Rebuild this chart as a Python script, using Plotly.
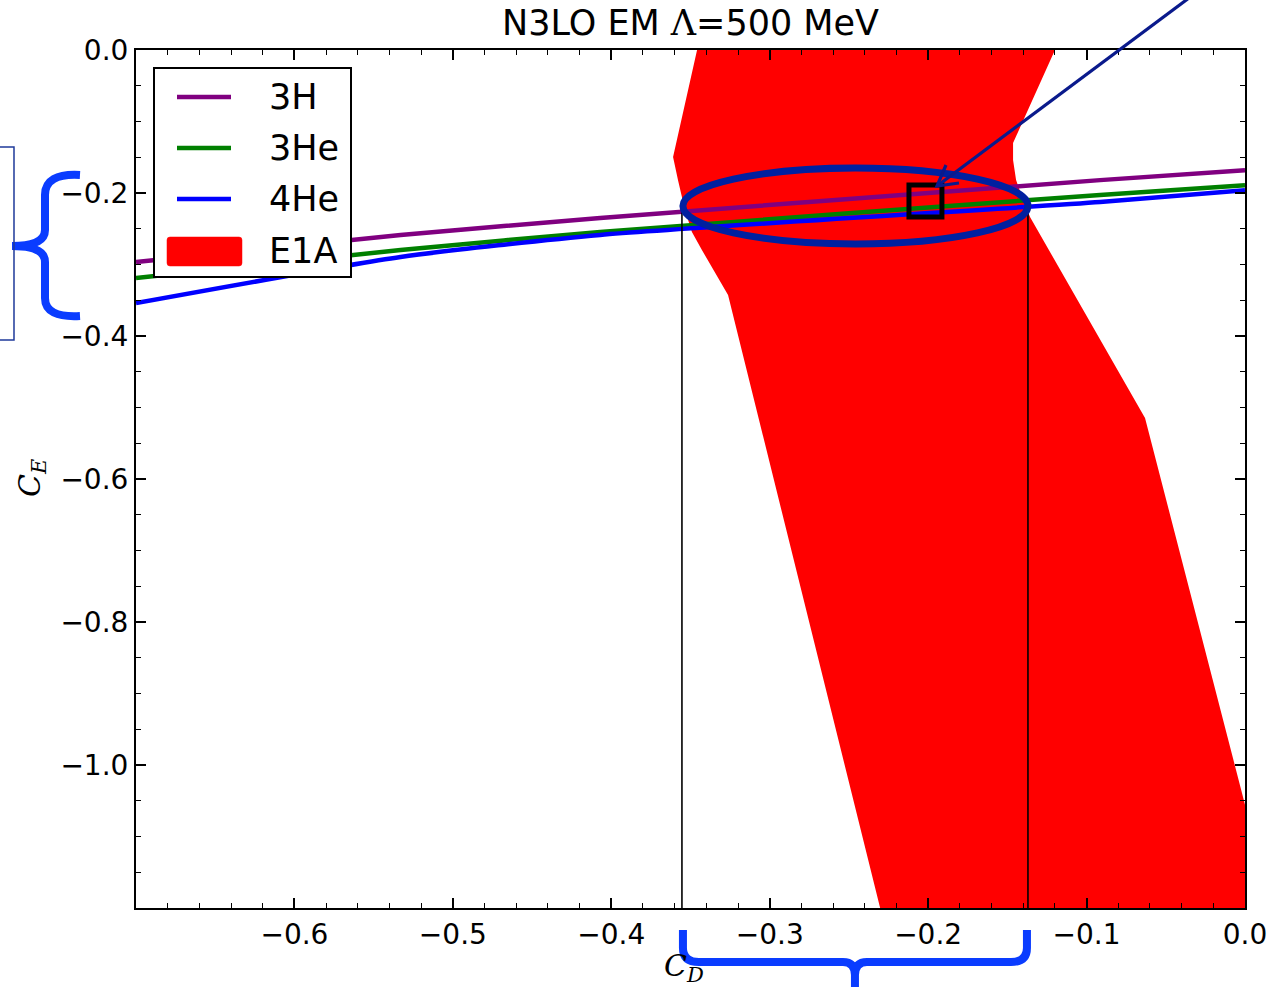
import plotly.graph_objects as go

# ---------------- data ----------------
cd_grid = [-0.7, -0.533, -0.407, -0.0915, 0.0]
ce_3H = [-0.2965, -0.2587, -0.235, -0.182, -0.168]
ce_3He = [-0.319, -0.2797, -0.2545, -0.2028, -0.189]
ce_4He = [-0.354, -0.2895, -0.2587, -0.2126, -0.196]

band_left_x = [-0.3408, -0.3459, -0.3610, -0.3579, -0.3535, -0.3491, -0.3428, -0.3263, -0.2304, -0.2247]
band_left_y = [0.05, 0.0, -0.1497, -0.1818, -0.2238, -0.2545, -0.2797, -0.3427, -1.2, -1.25]
band_right_x = [0.0227, 0.0, -0.0631, -0.1357, -0.1408, -0.1445, -0.1464, -0.1464, -0.1199, -0.1098]
band_right_y = [-1.25, -1.0559, -0.5147, -0.2336, -0.2056, -0.1818, -0.1538, -0.1301, 0.0, 0.05]

cd_bounds = [-0.3554, -0.137]        # vertical lines (C_D range)
cd_bounds_top = [-0.2266, -0.221]

ellipse_x = [-0.3548, -0.137]
ellipse_y = [-0.2713, -0.1651]
box_x = [-0.2121, -0.1913]
box_y = [-0.2336, -0.1888]

series_names = ["3H", "3He", "4He", "E1A"]
series_colors = ["#800080", "#008000", "#0000ff", "#ff0000"]

x_ticks = [-0.6, -0.5, -0.4, -0.3, -0.2, -0.1, 0.0]
y_ticks = [0.0, -0.2, -0.4, -0.6, -0.8, -1.0]

def fmt(v):
    s = f"{v:.1f}"
    return s.replace("-", "\u2212")

# ---------------- layout geometry ----------------
W, H = 1269, 987
L, R, T, B = 136, 1245, 50, 908
XMIN, XMAX, YMIN, YMAX = -0.7, 0.0, -1.2, 0.0

def PX(px):
    return (px - L) / (R - L)

def PY(py):
    return (B - py) / (B - T)

def dx2px(x):
    return L + (x - XMIN) / (XMAX - XMIN) * (R - L)

def path(cmds):
    out = []
    for c in cmds:
        op = c[0]
        pts = c[1:]
        s = op
        for i in range(0, len(pts), 2):
            s += f" {PX(pts[i]):.5f},{PY(pts[i+1]):.5f}"
        out.append(s)
    return " ".join(out)

fig = go.Figure()

# red band
fig.add_trace(go.Scatter(
    x=band_left_x + band_right_x, y=band_left_y + band_right_y,
    fill="toself", fillcolor=series_colors[3], mode="lines",
    line=dict(width=0, color=series_colors[3]), name=series_names[3],
    showlegend=False, hoverinfo="skip"))

for name, ys, col in zip(series_names[:3], [ce_3H, ce_3He, ce_4He], series_colors[:3]):
    fig.add_trace(go.Scatter(x=cd_grid, y=ys, mode="lines", name=name,
                             line=dict(color=col, width=4.5, shape="spline", smoothing=0.6),
                             showlegend=False))

# vertical bound lines
for xv, yt in zip(cd_bounds, cd_bounds_top):
    fig.add_trace(go.Scatter(x=[xv, xv], y=[yt, YMIN], mode="lines",
                             line=dict(color="black", width=1.6), showlegend=False,
                             hoverinfo="skip"))

shapes = []
# ellipse
shapes.append(dict(type="circle", xref="x", yref="y",
                   x0=ellipse_x[0], x1=ellipse_x[1], y0=ellipse_y[0], y1=ellipse_y[1],
                   line=dict(color="#0020a0", width=7)))
# black square
shapes.append(dict(type="rect", xref="x", yref="y",
                   x0=box_x[0], x1=box_x[1], y0=box_y[0], y1=box_y[1],
                   line=dict(color="black", width=5)))

# arrow
arrow_col = "#0a1a8c"
tip = (937, 186)
shapes.append(dict(type="path", xref="paper", yref="paper",
                   path=path([("M", 1197, -8), ("L",) + tip]),
                   line=dict(color=arrow_col, width=3.2)))
shapes.append(dict(type="path", xref="paper", yref="paper",
                   path=path([("M", 946, 165), ("L",) + tip, ("L", 959, 183)]),
                   line=dict(color=arrow_col, width=3.2)))

brace_col = "#0a3cff"
# left brace
shapes.append(dict(type="path", xref="paper", yref="paper",
                   path=path([("M", 80, 175), ("Q", 45, 173, 45, 195), ("L", 45, 230),
                              ("Q", 45, 246, 12, 246), ("Q", 45, 246, 45, 262),
                              ("L", 45, 298), ("Q", 45, 318, 80, 316)]),
                   line=dict(color=brace_col, width=8)))
# thin box at left
shapes.append(dict(type="path", xref="paper", yref="paper",
                   path=path([("M", -10, 147), ("L", 14, 147), ("L", 14, 340), ("L", -10, 340)]),
                   line=dict(color="#1f3a9a", width=1.5)))
# bottom brace
bl = dx2px(cd_bounds[0]) + 1
br = dx2px(cd_bounds[1]) - 1
bm = (bl + br) / 2
shapes.append(dict(type="path", xref="paper", yref="paper",
                   path=path([("M", bl, 930), ("L", bl, 948), ("Q", bl, 962, bl + 16, 962),
                              ("L", bm - 12, 962), ("Q", bm, 962, bm, 975), ("L", bm, 995),
                              ("M", bm, 975), ("Q", bm, 962, bm + 12, 962),
                              ("L", br - 16, 962), ("Q", br, 962, br, 948), ("L", br, 930)]),
                   line=dict(color=brace_col, width=8)))

# custom legend
shapes.append(dict(type="rect", xref="paper", yref="paper",
                   x0=PX(154), x1=PX(351), y0=PY(277), y1=PY(68),
                   line=dict(color="black", width=2), fillcolor="white", layer="above"))
leg_y = [97, 148, 199, 251]
annotations = []
for i, (name, col) in enumerate(zip(series_names, series_colors)):
    yy = leg_y[i]
    if i < 3:
        shapes.append(dict(type="line", xref="paper", yref="paper",
                           x0=PX(177), x1=PX(231), y0=PY(yy), y1=PY(yy),
                           line=dict(color=col, width=4.5), layer="above"))
    else:
        r = 3
        shapes.append(dict(type="path", xref="paper", yref="paper",
                           path=path([("M", 167 + r, 237), ("L", 242 - r, 237), ("Q", 242, 237, 242, 237 + r),
                                      ("L", 242, 266 - r), ("Q", 242, 266, 242 - r, 266),
                                      ("L", 167 + r, 266), ("Q", 167, 266, 167, 266 - r),
                                      ("L", 167, 237 + r), ("Q", 167, 237, 167 + r, 237), ("Z",)]),
                           fillcolor=col, line=dict(color=col, width=0.5), layer="above"))
    annotations.append(dict(xref="paper", yref="paper", x=PX(267), y=PY(yy),
                            xanchor="left", yanchor="middle", showarrow=False, text=name,
                            font=dict(family="DejaVu Sans", size=35, color="black")))

# title
annotations.append(dict(xref="paper", yref="paper", x=PX(690), y=PY(23),
                        xanchor="center", yanchor="middle", showarrow=False,
                        text="N3LO EM <span style='font-family:DejaVu Serif'>\u039b</span>=500 MeV",
                        font=dict(family="DejaVu Sans", size=35, color="black")))
# axis labels
annotations.append(dict(xref="paper", yref="paper", x=PX(684), y=PY(967),
                        xanchor="center", yanchor="middle", showarrow=False,
                        text="<i>C</i><sub><i>D</i></sub>",
                        font=dict(family="DejaVu Serif", size=30, color="black")))
annotations.append(dict(xref="paper", yref="paper", x=PX(31), y=PY(478),
                        xanchor="center", yanchor="middle", showarrow=False, textangle=-90,
                        text="<i>C</i><sub><i>E</i></sub>",
                        font=dict(family="DejaVu Serif", size=30, color="black")))

axis_common = dict(showgrid=False, zeroline=False, showline=True, linecolor="black",
                   linewidth=2, mirror="allticks", ticks="inside", ticklen=10,
                   tickwidth=1.5, tickcolor="black", automargin=False,
                   tickfont=dict(family="DejaVu Sans", size=28, color="black"))

fig.update_layout(
    width=W, height=H, autosize=False,
    margin=dict(l=L, r=W - R, t=T, b=H - B, pad=0, autoexpand=False),
    plot_bgcolor="white", paper_bgcolor="white",
    showlegend=False,
    shapes=shapes, annotations=annotations,
    xaxis=dict(range=[XMIN, XMAX], tickmode="array", tickvals=x_ticks,
               ticktext=[fmt(v) for v in x_ticks],
               minor=dict(dtick=0.02, tick0=0, ticks="inside", ticklen=5, tickwidth=1.2,
                          tickcolor="black", showgrid=False),
               **axis_common),
    yaxis=dict(range=[YMIN, YMAX], tickmode="array", tickvals=y_ticks,
               ticktext=[fmt(v) for v in y_ticks],
               minor=dict(dtick=0.05, tick0=0, ticks="inside", ticklen=5, tickwidth=1.2,
                          tickcolor="black", showgrid=False),
               **axis_common),
)

fig.write_html("out.html")
